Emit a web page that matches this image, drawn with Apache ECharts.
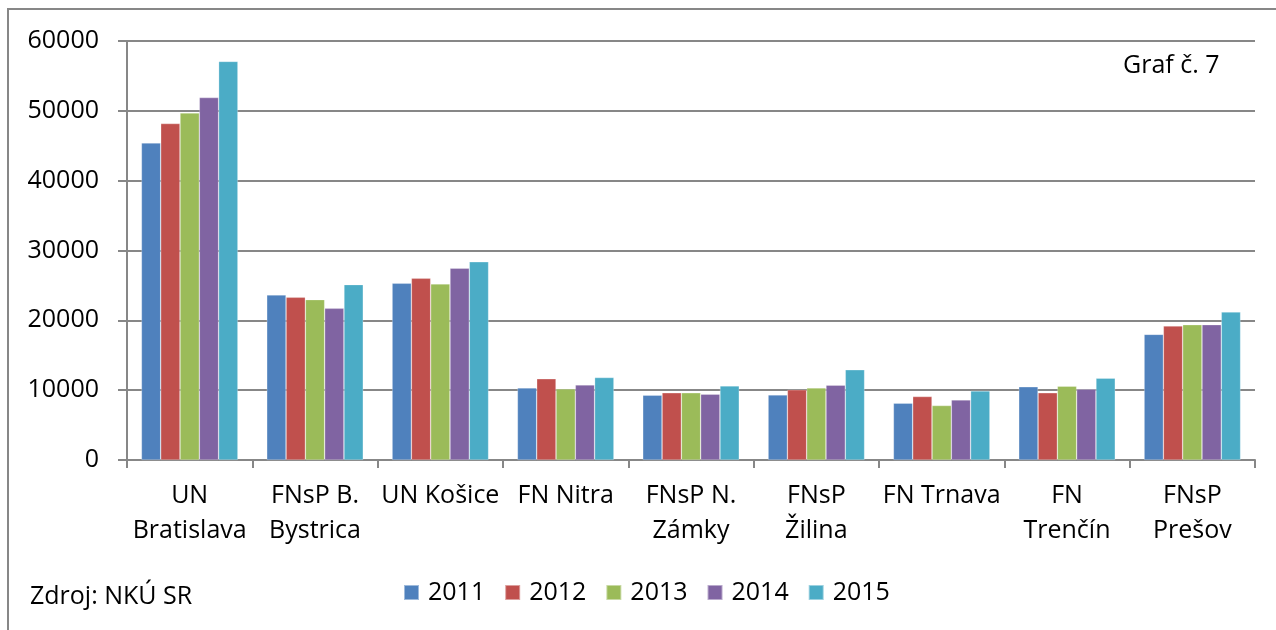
<!DOCTYPE html>
<html>
<head>
<meta charset="utf-8">
<script src="https://cdn.jsdelivr.net/npm/echarts@6/dist/echarts.min.js"></script>
<style>
  html, body { margin: 0; padding: 0; background: #fff; }
  #chart { width: 1276px; height: 630px; }
</style>
</head>
<body>
<div id="chart"></div>
<script>
const categories = ['UN\nBratislava', 'FNsP B.\nBystrica', 'UN Košice', 'FN Nitra', 'FNsP N.\nZámky', 'FNsP\nŽilina', 'FN Trnava', 'FN\nTrenčín', 'FNsP\nPrešov']
const years = ['2011', '2012', '2013', '2014', '2015']
const v2011 = [45400, 23640, 25310, 10330, 9280, 9330, 8130, 10480, 17990]
const v2012 = [48180, 23300, 26020, 11630, 9620, 10050, 9090, 9620, 19190]
const v2013 = [49700, 22970, 25220, 10190, 9620, 10330, 7800, 10570, 19380]
const v2014 = [51900, 21720, 27460, 10760, 9430, 10720, 8610, 10140, 19380]
const v2015 = [57080, 25120, 28380, 11810, 10620, 12920, 9900, 11720, 21200]
const color = ['#4f81bd', '#c0504d', '#9bbb59', '#8064a2', '#4bacc6']

const font = 'Open Sans'
const gray = '#878787'
const values = [v2011, v2012, v2013, v2014, v2015]
const series = years.map((y, i) => ({
  name: y,
  type: 'bar',
  data: values[i],
  barGap: '0%',
  barCategoryGap: '23%',
  itemStyle: { color: color[i], borderColor: 'rgba(255,255,255,0.45)', borderWidth: 0.6 }
}))

const chart = echarts.init(document.getElementById('chart'))
chart.setOption({
  animation: false,
  textStyle: { fontFamily: font },
  grid: { left: 127, right: 21, top: 41, bottom: 170 },
  legend: {
    data: years,
    left: 403,
    top: 580,
    padding: 0,
    icon: 'rect',
    itemWidth: 15,
    itemHeight: 15,
    itemGap: 19,
    textStyle: { fontFamily: font, fontSize: 25, color: '#000', padding: [0, 0, 0, 4] }
  },
  xAxis: {
    type: 'category',
    data: categories,
    axisLine: { lineStyle: { color: gray, width: 2 } },
    axisTick: { show: true, length: 8, lineStyle: { color: gray, width: 2 } },
    axisLabel: { color: '#000', fontSize: 25, lineHeight: 35, margin: 18, interval: 0 }
  },
  yAxis: {
    type: 'value',
    min: 0,
    max: 60000,
    interval: 10000,
    axisLine: { show: true, lineStyle: { color: gray, width: 2 } },
    axisTick: { show: true, length: 9, lineStyle: { color: gray, width: 2 } },
    axisLabel: { color: '#000', fontSize: 25, margin: 28, formatter: v => String(v) },
    splitLine: { lineStyle: { color: gray, width: 2 } }
  },
  graphic: [
    { type: 'polyline', shape: { points: [[8, 630], [8, 9], [1276, 9]] }, style: { stroke: gray, lineWidth: 2, fill: null } },
    { type: 'text', left: 1123, top: 53, style: { text: 'Graf č. 7', font: '25px "Open Sans"', fill: '#000' } },
    { type: 'text', left: 30, top: 584, style: { text: 'Zdroj: NKÚ SR', font: '25px "Open Sans"', fill: '#000' } }
  ],
  series
})
</script>
</body>
</html>
